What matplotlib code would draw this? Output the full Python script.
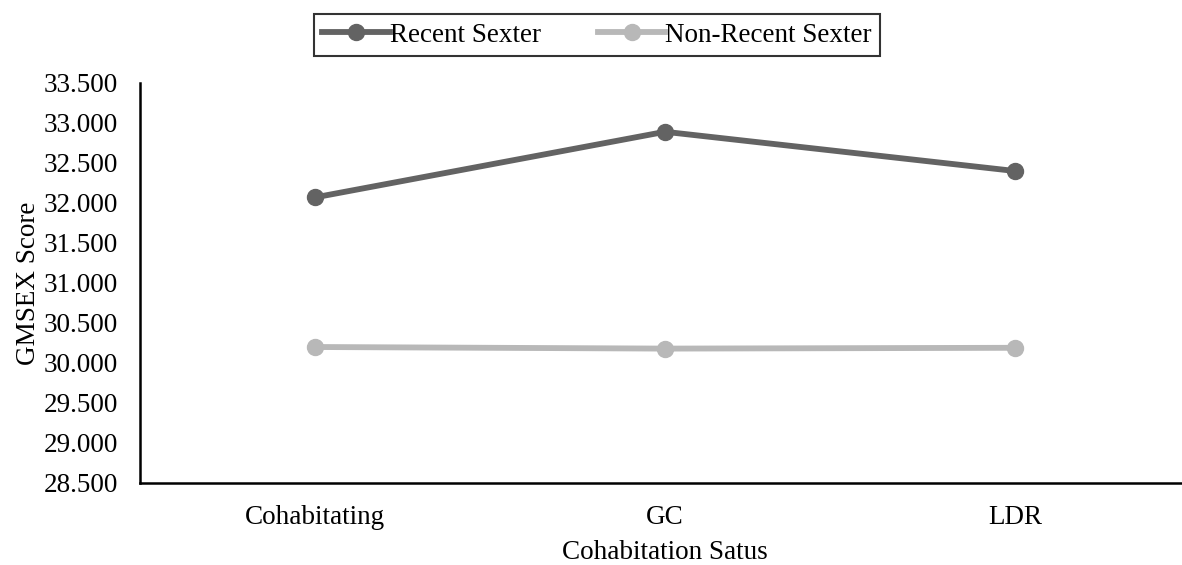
import matplotlib.pyplot as plt

# datos
estados = ['Cohabitating', 'GC', 'LDR']
recent_sexter = [32.07, 32.89, 32.40]
non_recent_sexter = [30.20, 30.18, 30.19]
y_ticks = [28.5, 29.0, 29.5, 30.0, 30.5, 31.0, 31.5, 32.0, 32.5, 33.0, 33.5]

plt.rcParams['font.family'] = ['Liberation Serif', 'DejaVu Serif']
fs = 19.5

fig = plt.figure(figsize=(11.82, 5.65), dpi=100)
ax = fig.add_axes([140 / 1182, 1 - 483 / 565, 1050 / 1182, 400 / 565])

x = list(range(len(estados)))
ax.plot(x, recent_sexter, color='#636363', lw=4.2, marker='o', ms=11.5,
        label='Recent Sexter')
ax.plot(x, non_recent_sexter, color='#b8b8b8', lw=4.2, marker='o', ms=11.5,
        label='Non-Recent Sexter')

ax.set_xlim(-0.5, 2.5)
ax.set_ylim(28.5, 33.5)
ax.set_xticks(x)
ax.set_xticklabels(estados)
ax.set_yticks(y_ticks)
ax.set_yticklabels([f'{v:.3f}' for v in y_ticks])
ax.tick_params(axis='both', length=0, labelsize=fs)
ax.tick_params(axis='y', pad=16)
ax.tick_params(axis='x', pad=16)

for s in ['top', 'right']:
    ax.spines[s].set_visible(False)
ax.spines['left'].set_linewidth(1.8)
ax.spines['bottom'].set_linewidth(1.8)

ax.set_ylabel('GMSEX Score', fontsize=fs, labelpad=2)
ax.set_xlabel('Cohabitation Satus', fontsize=fs, labelpad=7)

leg = fig.legend(loc='center', bbox_to_anchor=(597 / 1182, 1 - 35 / 565), ncol=2,
                 fontsize=fs, frameon=True, fancybox=False, edgecolor='black',
                 handlelength=2.5, handletextpad=0.0, columnspacing=2.1,
                 borderpad=0.3, borderaxespad=0)
leg.get_frame().set_linewidth(1.5)

fig.savefig('out.png', dpi=100)
